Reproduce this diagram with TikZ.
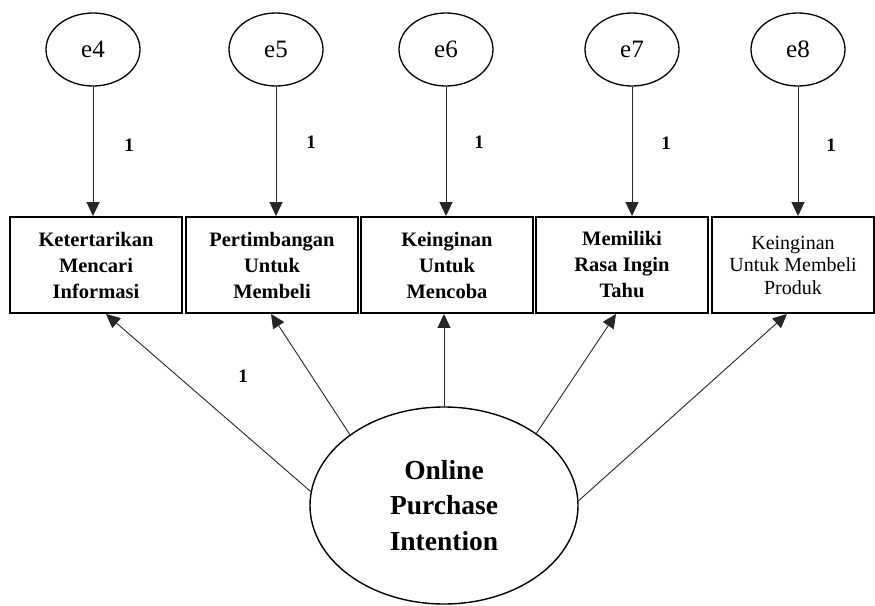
\documentclass[tikz,border=0pt]{standalone}
\usepackage{fontspec}
\setmainfont{Liberation Serif}
\usetikzlibrary{arrows.meta,shapes.geometric}
\tikzset{
  errnode/.style={ellipse,draw,line width=1.3pt,minimum width=94pt,minimum height=73pt,inner sep=0pt,font=\fontsize{25}{28}\selectfont},
  obsbox/.style={rectangle,draw,line width=1.9pt,minimum height=96pt,inner sep=0pt,align=center,font=\fontsize{20.5}{26}\selectfont\bfseries},
  latent/.style={ellipse,draw,line width=1.4pt,minimum width=268pt,minimum height=197pt,inner sep=0pt,align=center,font=\fontsize{27.5}{35.5}\selectfont\bfseries},
  wlabel/.style={inner sep=0pt,font=\fontsize{19}{22}\selectfont\bfseries},
  arr/.style={draw=black!85,line width=0.9pt,-{Triangle[length=14pt,width=13pt]}}
}
\begin{document}
\begin{tikzpicture}[x=1pt,y=-1pt]
\useasboundingbox (0,0) rectangle (875,605);
% error terms
\node[errnode] (e4) at (93,49.5) {e4};
\node[errnode] (e5) at (276,49.5) {e5};
\node[errnode] (e6) at (446,49.5) {e6};
\node[errnode] (e7) at (632,49.5) {e7};
\node[errnode] (e8) at (798,49.5) {e8};
% indicator boxes
\node[obsbox,minimum width=172pt] (b1) at (96,265) {Ketertarikan\\Mencari\\Informasi};
\node[obsbox,minimum width=172pt] (b2) at (272,265) {Pertimbangan\\Untuk\\Membeli};
\node[obsbox,minimum width=172pt] (b3) at (447,265) {Keinginan\\Untuk\\Mencoba};
\node[obsbox,minimum width=172pt] (b4) at (622,265) {Memiliki\\Rasa Ingin\\Tahu};
\node[obsbox,minimum width=162pt,font=\fontsize{20}{22.5}\selectfont] (b5) at (793,265) {Keinginan\\Untuk Membeli\\Produk};
% latent
\node[latent] (opi) at (444,505.5) {Online\\Purchase\\Intention};
% error arrows
\draw[arr] (e4.south) -- (e4.south |- b1.north);
\draw[arr] (e5.south) -- (e5.south |- b2.north);
\draw[arr] (e6.south) -- (e6.south |- b3.north);
\draw[arr] (e7.south) -- (e7.south |- b4.north);
\draw[arr] (e8.south) -- (e8.south |- b5.north);
% loading targets
\coordinate (t1) at ([xshift=10pt]b1.south);
\coordinate (t2) at ([xshift=-1pt]b2.south);
\coordinate (t3) at ([xshift=-3pt]b3.south);
\coordinate (t4) at ([xshift=-6pt]b4.south);
\coordinate (t5) at ([xshift=-6pt]b5.south);
\draw[arr] (opi.174.7) -- (t1);
\draw[arr] (opi.143.7) -- (t2);
\draw[arr] (opi.90) -- (t3);
\draw[arr] (opi.38.9) -- (t4);
\draw[arr] (opi.2.4) -- (t5);
% labels
\node[wlabel] (l4) at (129,145) {1};
\node[wlabel] (l5) at (311,142) {1};
\node[wlabel] (l6) at (479,142) {1};
\node[wlabel] (l7) at (666,143) {1};
\node[wlabel] (l8) at (831,145) {1};
\node[wlabel] (l1) at (243,376) {1};
\end{tikzpicture}
\end{document}
